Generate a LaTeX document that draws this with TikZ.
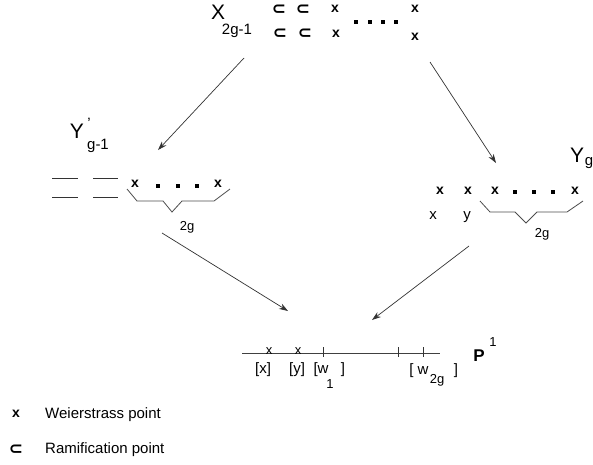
\documentclass[tikz,border=0pt]{standalone}
\usepackage{fontspec}
\setmainfont{Liberation Sans}
\newfontfamily\symfont{DejaVu Sans}
\usetikzlibrary{arrows.meta}
\begin{document}
\begin{tikzpicture}[x=1pt,y=-1pt,
  every node/.style={inner sep=0pt},
  big/.style={font=\fontsize{21}{21}\selectfont},
  mid/.style={font=\fontsize{15}{15}\selectfont},
  sml/.style={font=\fontsize{13}{13}\selectfont},
  wx/.style={font=\bfseries\fontsize{14}{14}\selectfont},
  ram/.style={font=\symfont\bfseries\fontsize{17}{17}\selectfont},
  pt/.style={fill=black, minimum size=3.5pt, rectangle},
  arr/.style={draw=black!80, line width=0.7pt, -{Stealth[length=9pt,width=6pt]}},
  brace/.style={draw=black!70, line width=0.8pt},
  bar/.style={draw=black!80, line width=0.9pt},
]
\useasboundingbox (0,0) rectangle (593,464);
% ---- X_{2g-1}
\node[big] (X) at (218,12) {X};
\node[mid] (Xs) at (237,31) {2g-1};
\node[ram] (r1) at (279,10) {⊂};
\node[ram] (r2) at (303,10) {⊂};
\node[ram] (r3) at (280,34) {⊂};
\node[ram] (r4) at (305,34) {⊂};
\node[wx] (tx1) at (335,9) {x};
\node[wx] (bx1) at (336,34) {x};
\node[wx] (tx2) at (415,9) {x};
\node[wx] (bx2) at (415,37) {x};
\node[pt] (td1) at (356,22) {};
\node[pt] (td2) at (370,22) {};
\node[pt] (td3) at (383,22) {};
\node[pt] (td4) at (396,22) {};
% ---- Y'_{g-1}
\node[big] (Yp) at (77,131) {Y};
\node[mid] (Ypp) at (89,123) {'};
\node[mid] (Yps) at (98,146) {g-1};
\draw[bar] (52,178) -- (78,178) (52,197) -- (78,197) (93,178) -- (118,178) (93,197) -- (118,197);
\node[wx] (lx1) at (135,184) {x};
\node[pt] (ld1) at (158,186) {};
\node[pt] (ld2) at (178,186) {};
\node[pt] (ld3) at (197,186) {};
\node[wx] (lx2) at (218,184) {x};
\draw[brace] (127,189) -- (137,201) -- (163,201) -- (172,212) -- (182,201) -- (214,201) -- (230,189);
\node[sml] (l2g) at (187,227) {2g};
% ---- Y_g
\node[big] (Yg) at (577,155) {Y};
\node[mid] (Ygs) at (589,163) {g};
\node[wx] (rx1) at (440,191) {x};
\node[wx] (rx2) at (468,191) {x};
\node[wx] (rx3) at (495,191) {x};
\node[pt] (rd1) at (515,192) {};
\node[pt] (rd2) at (534,192) {};
\node[pt] (rd3) at (553,192) {};
\node[wx] (rx4) at (575,191) {x};
\node[mid] (lblx) at (433,216) {x};
\node[mid] (lbly) at (467,217) {y};
\draw[brace] (480,201) -- (490,212) -- (515,212) -- (526,223) -- (537,212) -- (567,212) -- (583,201);
\node[sml] (r2g) at (542,234) {2g};
% ---- P^1
\coordinate (pl) at (242,353);
\coordinate (pr) at (440,353);
\draw[draw=black!75, line width=0.8pt] (pl) -- (pr);
\node[sml] (px) at (269,351) {x};
\node[sml] (py) at (298,351) {x};
\draw[bar] (323,347) -- (323,357) (398,347) -- (398,357) (423,347) -- (423,357);
\node[mid] (lx) at (263,370) {[x]};
\node[mid] (ly) at (297,370) {[y]};
\node[mid] (lw1) at (321,370) {[w};
\node[sml] (lw1s) at (330,384) {1};
\node[mid] (lw1b) at (343,370) {]};
\node[mid] (lw2) at (419,371) {[ w};
\node[sml] (lw2s) at (437,380) {2g};
\node[mid] (lw2b) at (456,371) {]};
\node[font=\bfseries\fontsize{17}{17}\selectfont] (P) at (479,356) {P};
\node[sml] (P1) at (493,342) {1};
% ---- arrows
\coordinate (a1s) at (244,58);  \coordinate (a1e) at (158,150);
\coordinate (a2s) at (430,62);  \coordinate (a2e) at (496,163);
\coordinate (a3s) at (162,233); \coordinate (a3e) at (288,311);
\coordinate (a4s) at (469,246); \coordinate (a4e) at (372,320);
\draw[arr] (a1s) -- (a1e);
\draw[arr] (a2s) -- (a2e);
\draw[arr] (a3s) -- (a3e);
\draw[arr] (a4s) -- (a4e);
% ---- legend
\node[wx] (kx) at (16,414) {x};
\node[mid, anchor=west] (kxt) at (45,415) {Weierstrass point};
\node[ram] (kr) at (16,450) {⊂};
\node[mid, anchor=west] (krt) at (45,450) {Ramification point};
\end{tikzpicture}
\end{document}
